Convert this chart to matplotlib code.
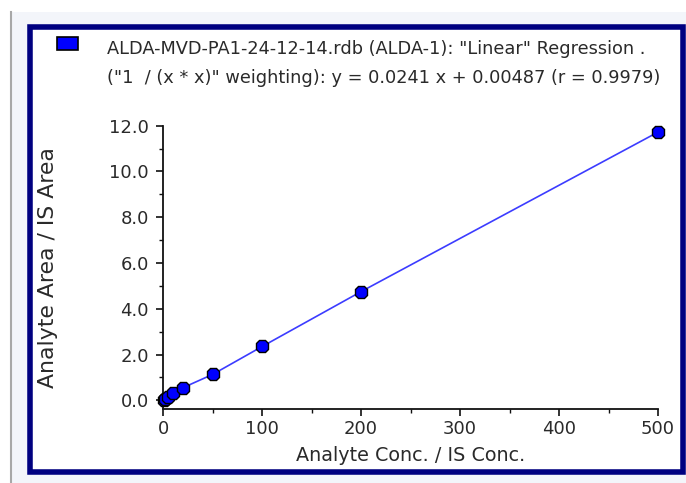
import numpy as np
import matplotlib.pyplot as plt
from matplotlib.patches import Rectangle

# calibration points
conc = [1, 2, 5, 10, 20, 50, 100, 200, 500]
ratio = [0.03, 0.06, 0.15, 0.32, 0.55, 1.13, 2.35, 4.75, 11.72]

x_ticks = [0, 100, 200, 300, 400, 500]
y_ticks = [0.0, 2.0, 4.0, 6.0, 8.0, 10.0, 12.0]

legend_line1 = 'ALDA-MVD-PA1-24-12-14.rdb (ALDA-1): "Linear" Regression .'
legend_line2 = '("1  / (x * x)" weighting): y = 0.0241 x + 0.00487 (r = 0.9979)'

W, H = 686, 483
plt.rcParams['font.family'] = ['DejaVu Sans']

fig = plt.figure(figsize=(W/100, H/100), dpi=100)
fig.patch.set_facecolor('white')

def px(x0, y0, w, h):
    # pixel box (top-left origin) -> figure fraction rect
    return (x0/W, 1 - (y0+h)/H, w/W, h/H)

# outer panel background and grey separator
x0, y0, w, h = px(11, 12, W-11, H-12)
fig.patches.append(Rectangle((x0, y0), w, h, transform=fig.transFigure,
                             facecolor='#f3f5fa', edgecolor='none', zorder=-3))
fig.add_artist(plt.Line2D([11/W, 11/W], [0, 1-12/H], transform=fig.transFigure,
                          color='#a8a8a8', lw=1.5, zorder=-2))
# navy frame
x0, y0, w, h = px(29.5, 26.5, 653.5, 445)
fig.patches.append(Rectangle((x0, y0), w, h, transform=fig.transFigure,
                             facecolor='white', edgecolor='#000080', lw=4, zorder=-1))

ax = fig.add_axes([162.7/W, 1-408.5/H, (658-162.7)/W, (408.5-125.7)/H])
ax.patch.set_alpha(0)

ax.plot(conc, ratio, color='#3c3cff', lw=1.2, zorder=2)
ax.plot(conc, ratio, linestyle='none', marker='8', markersize=10,
        markerfacecolor='#0000ff', markeredgecolor='black', markeredgewidth=1.0,
        zorder=3, clip_on=False)

ax.set_xlim(-0.5, 500)
ax.set_ylim(-0.36, 12.0)
ax.set_xticks(x_ticks)
ax.set_xticks(np.arange(50, 500, 100), minor=True)
ax.set_yticks(y_ticks)
ax.set_yticks(np.arange(1, 12, 2), minor=True)
ax.set_yticklabels([f'{v:.1f}' for v in y_ticks])

for s in ['top', 'right']:
    ax.spines[s].set_visible(False)
for s in ['left', 'bottom']:
    ax.spines[s].set_linewidth(1.3)
    ax.spines[s].set_color('#111111')

ax.tick_params(which='major', direction='out', length=5, width=1.2,
               labelsize=13, labelcolor='#2a2a2a', color='#111111')
ax.tick_params(which='minor', direction='out', length=3, width=1.0, color='#111111')
ax.tick_params(axis='y', pad=5)
ax.tick_params(axis='x', pad=3)

ax.set_xlabel('Analyte Conc. / IS Conc.', fontsize=13.8, color='#2a2a2a', labelpad=6)
ax.set_ylabel('Analyte Area / IS Area', fontsize=15.8, color='#2a2a2a', labelpad=37)

# legend drawn by hand, as in the source software
x0, y0, w, h = px(57, 37, 21, 13)
fig.patches.append(Rectangle((x0, y0), w, h, transform=fig.transFigure,
                             facecolor='#0000ff', edgecolor='black', lw=1.2, zorder=3))
fig.text(107/W, 1-49/H, legend_line1, fontsize=12.8, color='#2a2a2a',
         va='center', ha='left')
fig.text(107/W, 1-78/H, legend_line2, fontsize=12.8, color='#2a2a2a',
         va='center', ha='left')

fig.savefig('out.png', dpi=100, facecolor=fig.get_facecolor())
